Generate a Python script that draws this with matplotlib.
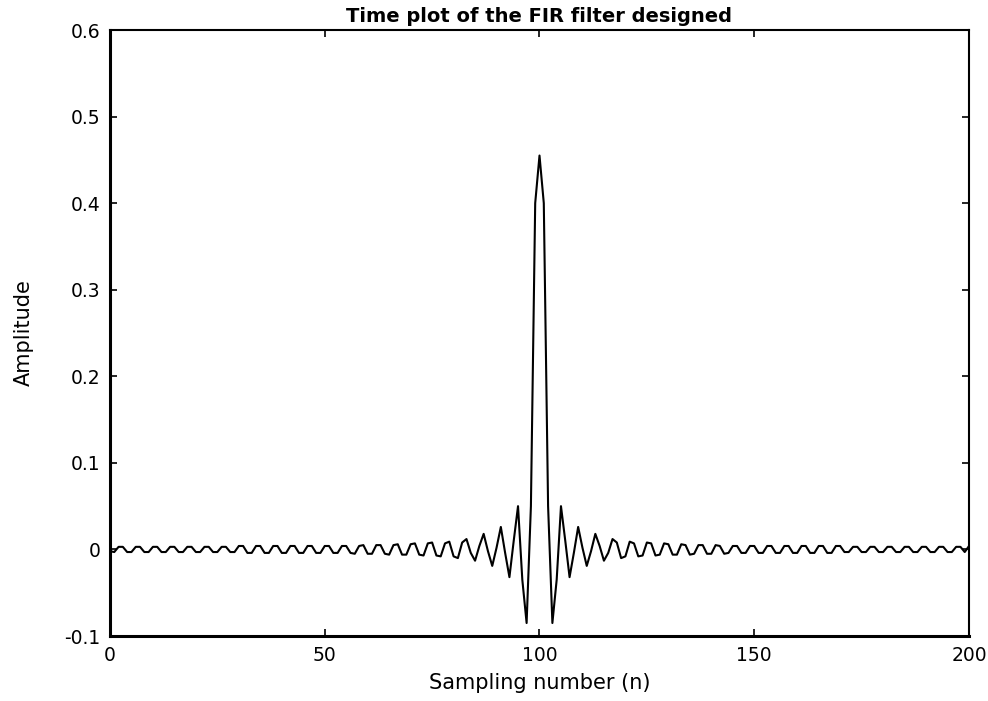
import matplotlib.pyplot as plt

# impulse response, n = 0 .. 99
h_left = [
    -0.002, -0.003, 0.003, 0.003, -0.003, -0.003, 0.003, 0.003, -0.003, -0.003,
    0.003, 0.003, -0.003, -0.003, 0.003, 0.003, -0.003, -0.003, 0.003, 0.003,
    -0.003, -0.003, 0.003, 0.003, -0.003, -0.003, 0.003, 0.003, -0.003, -0.003,
    0.004, 0.004, -0.004, -0.004, 0.004, 0.004, -0.004, -0.004, 0.004, 0.004,
    -0.004, -0.004, 0.004, 0.004, -0.004, -0.004, 0.004, 0.004, -0.004, -0.004,
    0.004, 0.004, -0.004, -0.004, 0.004, 0.004, -0.004, -0.005, 0.004, 0.005,
    -0.005, -0.005, 0.005, 0.005, -0.005, -0.006, 0.005, 0.006, -0.006, -0.006,
    0.006, 0.007, -0.006, -0.007, 0.007, 0.008, -0.007, -0.008, 0.007, 0.009,
    -0.008, -0.010, 0.008, 0.012, -0.004, -0.013, 0.004, 0.018, -0.002, -0.019,
    0.002, 0.026, -0.004, -0.032, 0.010, 0.050, -0.035, -0.085, 0.050, 0.400,
]
# n = 100
h_center = [0.455]
# n = 101 .. 200
h_right = [
    0.400, 0.050, -0.085, -0.035, 0.050, 0.010, -0.032, -0.004, 0.026, 0.002,
    -0.019, -0.002, 0.018, 0.004, -0.013, -0.004, 0.012, 0.008, -0.010, -0.008,
    0.009, 0.007, -0.008, -0.007, 0.008, 0.007, -0.007, -0.006, 0.007, 0.006,
    -0.006, -0.006, 0.006, 0.005, -0.006, -0.005, 0.005, 0.005, -0.005, -0.005,
    0.005, 0.004, -0.005, -0.004, 0.004, 0.004, -0.004, -0.004, 0.004, 0.004,
    -0.004, -0.004, 0.004, 0.004, -0.004, -0.004, 0.004, 0.004, -0.004, -0.004,
    0.004, 0.004, -0.004, -0.004, 0.004, 0.004, -0.004, -0.004, 0.004, 0.004,
    -0.003, -0.003, 0.003, 0.003, -0.003, -0.003, 0.003, 0.003, -0.003, -0.003,
    0.003, 0.003, -0.003, -0.003, 0.003, 0.003, -0.003, -0.003, 0.003, 0.003,
    -0.003, -0.003, 0.003, 0.003, -0.003, -0.003, 0.003, 0.003, -0.003, 0.004,
]
h = h_left + h_center + h_right
n = list(range(len(h)))

x_ticks = [0, 50, 100, 150, 200]
y_ticks = [-0.1, 0, 0.1, 0.2, 0.3, 0.4, 0.5, 0.6]
y_labels = ["-0.1", "0", "0.1", "0.2", "0.3", "0.4", "0.5", "0.6"]

plt.rcParams['font.family'] = ['DejaVu Sans']

fig = plt.figure(figsize=(9.88, 7.01), dpi=100)
ax = fig.add_axes([0.1113, 0.0927, 0.8695, 0.8645])

ax.plot(n, h, color='black', linewidth=1.5)

ax.set_xlim(0, 200)
ax.set_ylim(-0.1, 0.6)
ax.set_xticks(x_ticks)
ax.set_yticks(y_ticks)
ax.set_yticklabels(y_labels)
# matlab style: ticks inside on all four sides
ax.tick_params(direction='in', length=5, width=1.2, labelsize=13.5,
               top=True, right=True, pad=7)
for side in ax.spines.values():
    side.set_linewidth(1.5)
ax.spines['bottom'].set_linewidth(2.2)
ax.spines['left'].set_linewidth(2.2)

ax.set_title("Time plot of the FIR filter designed", fontsize=14,
             fontweight='bold', pad=6)
ax.set_xlabel("Sampling number (n)", fontsize=15, labelpad=6)
ax.set_ylabel("Amplitude", fontsize=15, labelpad=22)

fig.savefig("out.png", dpi=100)
